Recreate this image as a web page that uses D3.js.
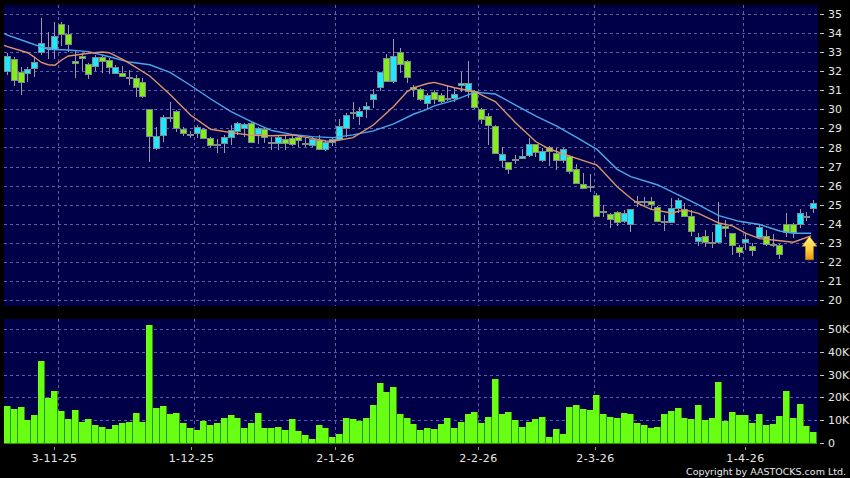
<!DOCTYPE html>
<html>
<head>
<meta charset="utf-8">
<script src="https://d3js.org/d3.v7.min.js"></script>
<style>
html,body{margin:0;padding:0;background:#000;}
svg{display:block;}
text{font-family:"DejaVu Sans",sans-serif;fill:#e8e8e8;}
</style>
</head>
<body>
<svg id="c" width="850" height="478"></svg>
<script>
const opens=[32.04,32.63,31.95,31.93,32.19,33.04,33.30,33.18,34.47,33.95,32.53,32.81,32.37,32.28,32.77,32.60,31.93,31.90,31.69,31.63,31.42,30.00,27.96,28.66,29.62,29.93,28.95,28.71,28.74,28.95,28.48,28.20,28.26,28.57,28.89,29.01,29.27,28.69,28.96,28.31,28.22,28.47,28.52,28.54,28.22,28.12,28.40,27.92,28.27,28.43,29.01,29.88,29.67,30.01,30.53,31.20,32.69,31.50,33.04,32.56,31.20,31.06,30.32,30.93,30.77,30.62,30.62,31.26,30.98,30.98,30.00,29.67,29.14,27.32,27.22,27.37,27.46,27.59,28.16,27.32,28.04,27.73,27.32,27.55,26.85,26.10,25.94,25.48,24.64,24.48,24.59,24.12,23.96,25.21,25.21,25.17,24.89,24.16,24.10,24.80,24.79,24.42,23.07,23.37,23.02,23.02,23.89,23.49,22.79,23.05,22.84,23.32,23.35,22.91,22.90,23.98,23.98,23.98,24.42,24.80];
const closes=[32.81,31.55,31.46,32.11,32.47,33.47,33.21,33.88,33.95,33.42,32.42,32.68,31.84,32.77,32.54,32.21,32.25,31.77,31.63,31.20,30.72,28.60,28.62,29.62,29.53,29.01,28.74,28.64,29.09,28.48,28.11,28.17,28.54,28.92,29.27,29.22,28.31,29.01,28.54,28.22,28.54,28.26,28.17,28.40,28.19,28.43,27.92,28.27,28.43,29.15,29.69,29.85,29.90,30.18,30.79,31.95,31.50,32.79,32.39,31.69,31.06,30.53,30.76,30.53,30.42,30.56,30.83,31.37,31.37,30.11,29.48,29.16,27.69,27.64,26.87,27.34,27.53,28.16,27.74,27.83,27.81,27.32,27.90,26.74,26.11,25.89,25.99,24.40,24.61,24.22,24.08,24.57,24.75,25.16,25.17,25.03,24.16,24.12,24.80,25.26,24.38,23.60,23.28,23.02,22.98,23.96,23.75,22.86,22.49,23.18,22.60,23.81,22.93,22.88,22.39,23.54,23.58,24.58,24.37,25.10];
const highs=[32.98,32.74,32.25,32.25,32.68,34.79,34.05,34.58,34.61,34.44,33.12,32.95,32.42,32.86,32.86,32.68,32.33,32.30,32.07,31.81,31.63,30.00,29.09,29.71,30.41,29.97,29.09,28.88,29.18,29.00,28.53,28.45,28.66,29.18,29.36,29.27,29.36,29.06,29.01,28.57,28.61,28.66,28.69,28.66,28.48,28.57,28.66,28.40,28.57,29.50,29.80,30.41,30.15,30.41,31.06,31.95,32.91,33.70,33.21,32.60,31.29,31.11,30.88,31.02,30.88,31.23,31.11,31.98,32.54,31.02,30.05,29.79,29.18,28.01,27.26,27.60,27.92,28.48,28.18,27.96,28.08,27.96,27.96,27.60,27.13,26.68,26.60,25.62,24.98,24.54,24.66,24.71,24.78,25.45,25.42,25.42,24.93,24.45,25.33,25.33,25.07,24.72,23.49,23.67,23.54,25.16,24.19,23.49,22.88,23.49,23.00,23.93,23.67,23.46,22.93,24.54,24.05,24.75,24.63,25.24];
const lows=[31.81,31.25,30.76,31.46,31.69,32.86,32.65,32.65,33.35,33.00,31.67,32.02,31.60,32.02,31.93,31.86,31.86,31.69,31.28,30.67,30.58,27.25,27.87,28.31,29.36,28.83,28.60,28.48,28.52,28.43,27.96,27.73,27.73,28.13,28.66,28.57,28.22,28.19,28.26,27.87,27.87,27.87,28.08,28.04,28.01,28.04,27.87,27.82,28.08,28.40,28.57,29.50,29.18,29.53,30.06,30.99,31.46,31.37,31.90,31.41,30.64,30.46,30.00,30.28,30.32,30.46,30.41,30.93,30.58,30.00,29.23,28.13,27.66,26.95,26.62,27.13,27.43,27.48,27.51,27.25,27.03,26.81,27.17,26.60,26.06,25.85,25.68,24.36,24.36,23.78,23.89,24.05,23.58,24.86,24.89,24.72,24.10,23.61,24.10,24.54,24.37,23.35,22.83,22.76,22.70,23.00,23.28,22.35,22.26,22.62,22.30,23.28,22.83,22.79,22.14,23.28,23.23,23.79,24.16,24.54];
const volumes=[16.1,15.0,15.7,10.0,12.2,35.8,19.9,22.8,14.0,10.8,14.4,9.2,10.5,8.0,7.1,6.4,7.8,8.9,9.4,13.1,9.3,51.6,15.4,16.4,12.8,13.2,9.0,6.8,5.8,9.9,8.0,8.7,10.9,12.4,11.2,6.5,9.0,13.1,6.5,6.8,7.0,5.8,10.7,5.5,3.5,2.0,7.8,6.7,2.8,4.1,10.9,10.6,9.9,11.0,16.9,26.5,22.2,24.4,12.9,11.2,8.3,5.8,6.8,6.4,8.4,11.0,6.7,9.4,12.9,13.8,8.9,11.3,27.9,12.8,13.7,10.3,7.1,9.3,10.6,11.3,2.6,6.1,4.2,15.7,16.9,15.1,14.4,21.1,12.8,11.6,10.9,13.1,12.6,8.9,8.1,6.7,7.1,12.6,14.1,15.4,11.0,10.8,16.6,10.2,10.9,26.7,9.7,13.5,12.4,12.2,9.0,12.6,8.0,8.4,11.9,22.7,11.0,17.0,7.7,5.1];
const slowIdx=[-0.5,0,3,6,9,12,15,18,21,24,27,30,33,36,39,42,45,48,51,54,57,60,62,63,66,69,72,75,78,81,84,87,90,92,96,99,102,105,108,111,114,116,118.6];
const slowVal=[34.00,33.91,33.53,33.16,33.12,33.04,32.77,32.49,32.35,31.95,31.27,30.55,29.88,29.36,28.89,28.69,28.57,28.52,28.66,28.87,29.24,29.76,30.02,30.19,30.49,30.91,30.81,30.23,29.65,29.14,28.53,27.90,26.85,26.47,26.03,25.51,24.98,24.42,24.12,23.95,23.61,23.49,23.49];
const fastIdx=[-0.5,0,3,4,5,6,7,8,9,12,14,15,17,18,21,24,27,30,33,36,39,42,45,47,48,51,54,57,59,60,62,63,66,69,71,72,75,78,80,83,87,90,92,93,95,98,100,102,105,107,109,111,113,116,118.6];
const fastVal=[33.37,33.30,32.98,32.74,32.47,32.35,32.32,32.60,32.81,32.95,33.02,32.98,32.63,32.42,31.76,30.79,29.71,28.96,28.78,28.64,28.62,28.66,28.48,28.34,28.33,28.52,29.18,30.15,30.94,31.15,31.36,31.42,31.14,30.93,30.58,30.41,29.30,28.30,27.92,27.55,27.08,25.94,25.33,25.07,24.75,24.56,24.72,24.54,24.03,23.88,23.49,23.21,23.14,23.02,23.35];
const priceTicks=d3.range(20,36);
const volumeTicks=[0,10,20,30,40,50];
const dateLabels=["3-11-25","1-12-25","2-1-26","2-2-26","2-3-26","1-4-26"];
const dateTickIdx=[6.9,27.1,48.4,69.5,86.7,108.9];
const dateGridIdx=[7.5,27.5,48.4,69.5,86.5,108.5];
const arrowIdx=118.3;

const svg=d3.select("#c");
const L=4,R=818,PT=5,PB=306,VT=319,VB=444;
const x=d3.scaleLinear().domain([0,119]).range([7.5,813.7]);
const y=d3.scaleLinear().domain([20,35]).range([299.7,14.3]);
const v=d3.scaleLinear().domain([0,50]).range([443.3,328.7]);
const navy="#000048", gridC="#5e5ea8", wick="#9a9aa0", edge="#7f8c88";
const green="#84ee1c", cyan="#1de8ff", volC="#68ff12", volEdge="#2f8f12";

svg.append("rect").attr("width",850).attr("height",478).attr("fill","#000");
svg.append("rect").attr("x",L).attr("y",PT).attr("width",R-L).attr("height",PB-PT).attr("fill",navy);
svg.append("rect").attr("x",L).attr("y",VT).attr("width",R-L).attr("height",VB-VT).attr("fill",navy);

const gridG=svg.append("g").attr("stroke",gridC).attr("stroke-width",1).attr("stroke-dasharray","3,3").attr("shape-rendering","crispEdges");
priceTicks.forEach(t=>gridG.append("line").attr("x1",L).attr("x2",R).attr("y1",Math.round(y(t))+.5).attr("y2",Math.round(y(t))+.5));
volumeTicks.filter(t=>t>0).forEach(t=>gridG.append("line").attr("x1",L).attr("x2",R).attr("y1",Math.round(v(t))+.5).attr("y2",Math.round(v(t))+.5));
dateGridIdx.forEach(i=>{
  const px=Math.round(x(i))+.5;
  gridG.append("line").attr("x1",px).attr("x2",px).attr("y1",PT).attr("y2",PB);
  gridG.append("line").attr("x1",px).attr("x2",px).attr("y1",VT).attr("y2",VB);
});

const cand=d3.range(opens.length);
const cg=svg.append("g").attr("shape-rendering","crispEdges");
cg.selectAll("line").data(cand).join("line")
  .attr("x1",i=>Math.floor(x(i))+.5).attr("x2",i=>Math.floor(x(i))+.5)
  .attr("y1",i=>y(highs[i])).attr("y2",i=>y(lows[i]))
  .attr("stroke",wick).attr("stroke-width",1);
cg.selectAll("rect").data(cand).join("rect")
  .attr("x",i=>Math.floor(x(i))-2.5).attr("width",6)
  .attr("y",i=>Math.round(y(Math.max(opens[i],closes[i])))+.5)
  .attr("height",i=>Math.max(1,Math.round(y(Math.min(opens[i],closes[i])))-Math.round(y(Math.max(opens[i],closes[i])))))
  .attr("fill",i=>closes[i]>=opens[i]?cyan:green)
  .attr("stroke",edge).attr("stroke-width",1);

const ln=d3.line().x(d=>x(d[0])).y(d=>y(d[1]));
svg.append("path").attr("d",ln(slowIdx.map((a,i)=>[a,slowVal[i]]))).attr("fill","none").attr("stroke","#4aa8ea").attr("stroke-width",1.4);
svg.append("path").attr("d",ln(fastIdx.map((a,i)=>[a,fastVal[i]]))).attr("fill","none").attr("stroke","#e0946a").attr("stroke-width",1.4);

const defs=svg.append("defs");
const grad=defs.append("linearGradient").attr("id","ag").attr("x1",0).attr("x2",0).attr("y1",0).attr("y2",1);
grad.append("stop").attr("offset","0%").attr("stop-color","#fff27a");
grad.append("stop").attr("offset","55%").attr("stop-color","#ffd23c");
grad.append("stop").attr("offset","100%").attr("stop-color","#e8940c");
const ax=x(arrowIdx)+.5, arrowTop=y(23.33);
const arrowShape=[[0,0],[7.5,10],[4,10],[4,23.5],[-4,23.5],[-4,10],[-7.5,10]];
svg.append("polygon").attr("points",arrowShape.map(p=>[ax+p[0],arrowTop+p[1]].join(",")).join(" ")).attr("fill","url(#ag)").attr("stroke","#c98a10").attr("stroke-width",.5);

const vg=svg.append("g").attr("shape-rendering","crispEdges");
vg.selectAll("rect.under").data(volumes).join("rect").attr("class","under")
  .attr("x",(d,i)=>Math.floor(x(i))-3).attr("width",7)
  .attr("y",d=>Math.round(v(d))).attr("height",d=>Math.round(v(0))-Math.round(v(d))+1)
  .attr("fill",volEdge);
vg.selectAll("rect.over").data(volumes).join("rect").attr("class","over")
  .attr("x",(d,i)=>Math.floor(x(i))-3).attr("width",6)
  .attr("y",d=>Math.round(v(d))).attr("height",d=>Math.round(v(0))-Math.round(v(d)))
  .attr("fill",volC);

function styleAxis(g){
  g.select(".domain").remove();
  g.selectAll(".tick line").attr("stroke","#c8c8c8").attr("shape-rendering","crispEdges");
  g.selectAll(".tick text").attr("fill","#e8e8e8").attr("font-size",11).attr("font-family","DejaVu Sans");
}
svg.append("g").attr("transform","translate(820,0)")
  .call(d3.axisRight(y).tickValues(priceTicks).tickSize(4).tickPadding(4).tickFormat(d3.format("d"))).call(styleAxis);
svg.append("g").attr("transform","translate(820,0)")
  .call(d3.axisRight(v).tickValues(volumeTicks).tickSize(4).tickPadding(4).tickFormat(d=>d===0?"0":d+"K")).call(styleAxis);

const xg=svg.append("g");
dateLabels.forEach((t,i)=>{
  const px=Math.round(x(dateTickIdx[i]))+.5;
  xg.append("line").attr("x1",px).attr("x2",px).attr("y1",447).attr("y2",450).attr("stroke","#999").attr("shape-rendering","crispEdges");
  xg.append("text").attr("x",px).attr("y",462).attr("text-anchor","middle").attr("font-size",11).attr("letter-spacing",".4px").text(t);
});
svg.append("text").attr("x",846).attr("y",474.5).attr("text-anchor","end").attr("font-size",9.5).text("Copyright by AASTOCKS.com Ltd.");
</script>
</body>
</html>
